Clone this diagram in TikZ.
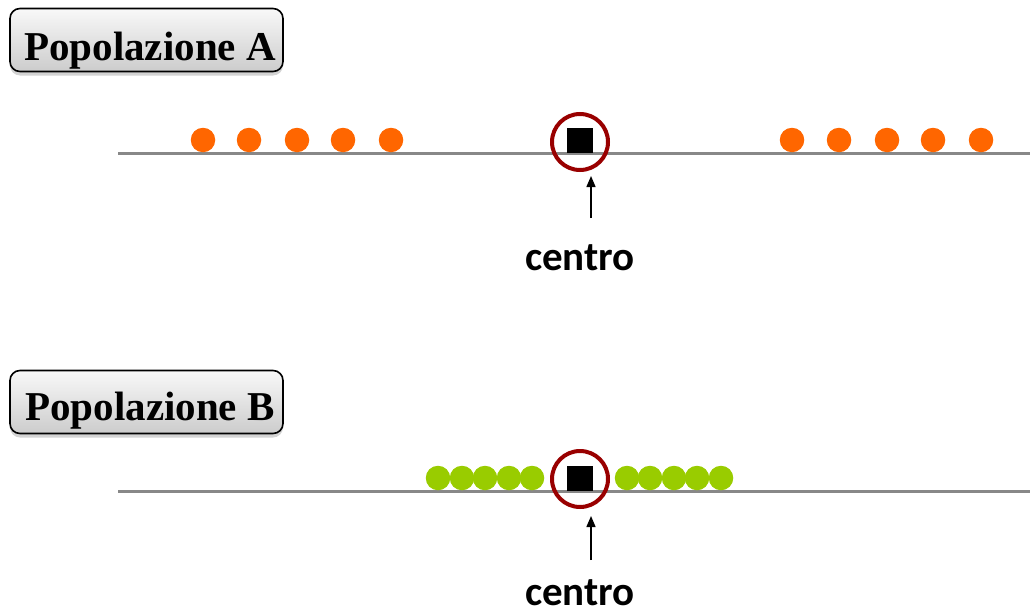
\documentclass[tikz,border=0pt]{standalone}
\usepackage{fontspec}
\setmainfont{Liberation Serif}
\newfontfamily\labelfont{Carlito}
\usetikzlibrary{shadows,arrows.meta}
\definecolor{dotorange}{HTML}{FF6600}
\definecolor{dotgreen}{HTML}{99CC00}
\definecolor{ringred}{HTML}{990000}
\definecolor{axisgray}{HTML}{888888}
\tikzset{
  popbox/.style={draw=black, line width=1.6pt, rounded corners=10pt,
    top color=white!95!gray, bottom color=black!20,
    minimum width=273pt, minimum height=63pt, inner sep=0pt,
    drop shadow={shadow xshift=0pt, shadow yshift=-4pt, opacity=0.35}},
  poptext/.style={font=\bfseries\fontsize{41}{41}\selectfont, anchor=base, inner sep=0pt},
  axis/.style={draw=axisgray, line width=3pt},
  odot/.style={circle, fill=dotorange, minimum size=24.5pt, inner sep=0pt},
  gdot/.style={circle, fill=dotgreen, minimum size=24.5pt, inner sep=0pt},
  ctrsq/.style={fill=black, minimum width=26pt, minimum height=25pt, inner sep=0pt},
  ring/.style={circle, draw=ringred, line width=4pt, minimum size=56pt, inner sep=0pt},
  ptr/.style={line width=1.4pt, -{Triangle[width=9pt,length=11pt]}},
  ctrlabel/.style={font=\labelfont\bfseries\fontsize{41}{41}\selectfont, anchor=base, inner sep=0pt}
}
\begin{document}
\begin{tikzpicture}[x=1pt,y=-1pt]
\useasboundingbox (0,0) rectangle (1030,613);
% ---------- Popolazione A ----------
\node[popbox] (boxA) at (146.5,40) {};
\node[poptext] (titA) at (150,60) {Popolazione A};
\coordinate (lA0) at (118,153);
\coordinate (lA1) at (1030,153);
\draw[axis] (lA0) -- (lA1);
\foreach \x [count=\i] in {203,249,297,343,391}{
  \node[odot] (aL\i) at (\x,140) {};
}
\foreach \x [count=\i] in {792,839,887,933,981}{
  \node[odot] (aR\i) at (\x,140) {};
}
\node[ctrsq] (sqA) at (580,140.5) {};
\node[ring] (ringA) at (580,142) {};
\coordinate (tailA) at (591,218);
\coordinate (tipA) at (591,176);
\draw[ptr] (tailA) -- (tipA);
\node[ctrlabel] (cenA) at (580,270) {centro};
% ---------- Popolazione B ----------
\node[popbox] (boxB) at (146.5,402) {};
\node[poptext] (titB) at (150,420) {Popolazione B};
\coordinate (lB0) at (118,491);
\coordinate (lB1) at (1030,491);
\draw[axis] (lB0) -- (lB1);
\foreach \x [count=\i] in {438,462,485,509,532}{
  \node[gdot] (bL\i) at (\x,478) {};
}
\foreach \x [count=\i] in {627,650,674,697,721}{
  \node[gdot] (bR\i) at (\x,478) {};
}
\node[ctrsq] (sqB) at (580,478.5) {};
\node[ring] (ringB) at (580,479) {};
\coordinate (tailB) at (591,560);
\coordinate (tipB) at (591,516);
\draw[ptr] (tailB) -- (tipB);
\node[ctrlabel] (cenB) at (580,605) {centro};
\end{tikzpicture}
\end{document}
